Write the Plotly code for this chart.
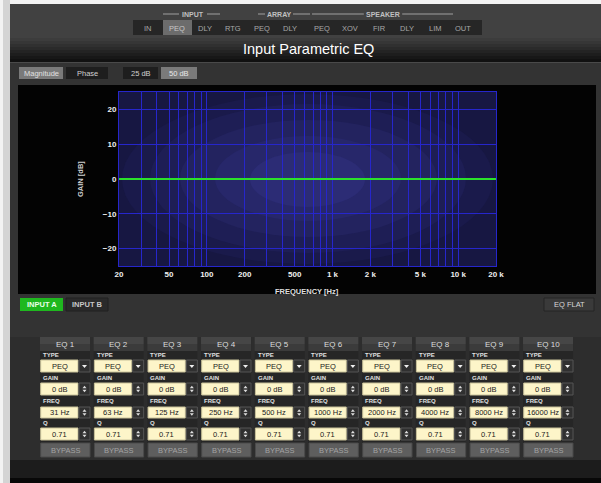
import plotly.graph_objects as go

# ---------------- data ----------------
nav_labels = ["IN", "PEQ", "DLY", "RTG", "PEQ", "DLY", "PEQ", "XOV", "FIR", "DLY", "LIM", "OUT"]
nav_groups = ["INPUT", "ARRAY", "SPEAKER"]
eq_names = ["EQ 1", "EQ 2", "EQ 3", "EQ 4", "EQ 5", "EQ 6", "EQ 7", "EQ 8", "EQ 9", "EQ 10"]
eq_types = ["PEQ", "PEQ", "PEQ", "PEQ", "PEQ", "PEQ", "PEQ", "PEQ", "PEQ", "PEQ"]
eq_gain_db = [0, 0, 0, 0, 0, 0, 0, 0, 0, 0]
eq_freq_hz = [31, 63, 125, 250, 500, 1000, 2000, 4000, 8000, 16000]
eq_q = [0.71, 0.71, 0.71, 0.71, 0.71, 0.71, 0.71, 0.71, 0.71, 0.71]

resp_freq_hz = [20, 31, 63, 125, 250, 500, 1000, 2000, 4000, 8000, 16000, 20000]
resp_gain_db = [0, 0, 0, 0, 0, 0, 0, 0, 0, 0, 0, 0]

x_label_vals = [20, 50, 100, 200, 500, 1000, 2000, 5000, 10000, 20000]
x_label_text = ["20", "50", "100", "200", "500", "1 k", "2 k", "5 k", "10 k", "20 k"]
x_grid_vals = [30, 40, 60, 70, 80, 90, 300, 400, 600, 700, 800, 900,
               3000, 4000, 6000, 7000, 8000, 9000]
y_tick_vals = [-20, -10, 0, 10, 20]

# ---------------- layout geometry (pixels) ----------------
W, H = 601, 483
PL, PR, PT, PB = 119, 496, 92, 266


def X(px):
    return (px - PL) / (PR - PL)


def Y(py):
    return (PB - py) / (PB - PT)


shapes = []
annotations = []


def rect(x0, y0, x1, y1, fill, line=None, lw=1):
    shapes.append(dict(type="rect", xref="paper", yref="paper",
                       x0=X(x0), x1=X(x1), y0=Y(y1), y1=Y(y0),
                       fillcolor=fill, layer="below",
                       line=dict(color=line or fill, width=lw if line else 0)))


def ellipse(x0, y0, x1, y1, fill):
    shapes.append(dict(type="circle", xref="paper", yref="paper",
                       x0=X(x0), x1=X(x1), y0=Y(y1), y1=Y(y0),
                       fillcolor=fill, layer="below", line=dict(width=0)))


def hline(x0, x1, y, color):
    shapes.append(dict(type="line", xref="paper", yref="paper",
                       x0=X(x0), x1=X(x1), y0=Y(y), y1=Y(y),
                       layer="above", line=dict(color=color, width=1)))


def tri(cx, cy, w, h, up, color):
    if up:
        pts = [(cx - w / 2, cy + h / 2), (cx + w / 2, cy + h / 2), (cx, cy - h / 2)]
    else:
        pts = [(cx - w / 2, cy - h / 2), (cx + w / 2, cy - h / 2), (cx, cy + h / 2)]
    path = "M " + " L ".join(f"{X(a):.5f},{Y(b):.5f}" for a, b in pts) + " Z"
    shapes.append(dict(type="path", xref="paper", yref="paper", path=path,
                       fillcolor=color, layer="above", line=dict(width=0)))


FONT = "Liberation Sans"


def txt(x, y, s, size, color, bold=False, xanchor="center", angle=0, family=FONT):
    annotations.append(dict(xref="paper", yref="paper", x=X(x), y=Y(y), text=s,
                            showarrow=False, xanchor=xanchor, yanchor="middle",
                            textangle=angle,
                            font=dict(size=size, color=color, family=family,
                                      weight="bold" if bold else "normal")))


# background frame
rect(0, 0, W, 4, "#f3f3f3")
rect(0, 0, 10, H, "#d4d4d4")
rect(0, 0, 3, H, "#f3f3f3")
rect(10, 4, W, 38, "#414141")
# title bar gradient
tb = ["#3c3c3c", "#363636", "#303030", "#2a2a2a", "#232323", "#1d1d1d", "#171717", "#111111"]
for i, c in enumerate(tb):
    rect(10, 38 + i * 3, W, 41 + i * 3, c)
rect(10, 62, W, 63, "#4a4a4a")
rect(10, 63, W, 337, "#333333")
rect(10, 337, W, 460, "#2d2d2d")
rect(10, 460, W, 478, "#1c1c1c")
rect(10, 478, W, H, "#080808")

# navigation bar
rect(133, 20, 482, 35, "#262626")
nav_x = [148, 177, 205, 233, 262, 290, 322, 350, 379, 407, 435, 463]
rect(163, 20, 192, 35, "#6c6c6c")
for i, (lab, nx) in enumerate(zip(nav_labels, nav_x)):
    txt(nx, 28, lab, 7.5, "#c8c8c8" if i == 1 else "#a8a8a8")
group_pos = [(193, 163, 220), (279, 258, 310), (383, 312, 453)]
for g, (cx, a, b) in zip(nav_groups, group_pos):
    half = len(g) * 2.6
    hline(a, cx - half - 1, 14, "#a0a0a0")
    hline(cx + half + 1, b, 14, "#a0a0a0")
    txt(cx, 14, g, 7, "#c0c0c0", bold=True)

# title
txt(308, 49, "Input Parametric EQ", 14.5, "#ffffff")

# view buttons
rect(19, 67, 63, 79, "#7a7a7a")
txt(41, 73, "Magnitude", 7.5, "#e0e0e0")
rect(66, 67, 108, 79, "#1e1e1e")
txt(87, 73, "Phase", 7.5, "#d0d0d0")
rect(123, 67, 158, 79, "#1e1e1e")
txt(140.5, 73, "25 dB", 7.5, "#d0d0d0")
rect(161, 67, 197, 79, "#7a7a7a")
txt(179, 73, "50 dB", 7.5, "#e8e8e8")

# graph panel
rect(18, 85, 596, 294, "#030303")
rect(PL, PT, PR, PB, "#171742")
for (a, b, c, d, col) in [(122, 94, 493, 264, "#1a1a4b"),
                          (150, 104, 466, 253, "#1e1e55"),
                          (180, 120, 437, 237, "#23235f"),
                          (215, 136, 401, 221, "#27276a"),
                          (250, 152, 365, 207, "#2c2c75")]:
    ellipse(a, b, c, d, col)

txt(80, 179, "GAIN [dB]", 7.5, "#d0d0d0", bold=True, angle=-90)
txt(307, 291, "FREQUENCY [Hz]", 7.5, "#e0e0e0", bold=True)

# input / flat buttons
rect(20, 298, 63, 311, "#1fb81f")
txt(41.5, 304.5, "INPUT A", 7.5, "#eaffea", bold=True)
rect(66, 298, 108, 311, "#2a2a2a", "#202020")
txt(87, 304.5, "INPUT B", 7.5, "#c8c8c8", bold=True)
rect(544, 298, 594, 311, "#3a3a3a", "#242424")
txt(569, 304.5, "EQ FLAT", 7.5, "#d8d8d8")

# EQ columns
for i in range(len(eq_names)):
    x0 = 40 + 53.67 * i
    rect(x0, 351, x0 + 50, 457, "#262626")
    rect(x0, 337, x0 + 50, 344, "#464646")
    rect(x0, 344, x0 + 50, 351, "#3b3b3b")
    txt(x0 + 25, 344, eq_names[i], 8, "#dcdcdc")
    rows = [(355, "TYPE", 360, 372, eq_types[i]),
            (378, "GAIN", 383, 395, f"{eq_gain_db[i]:g} dB"),
            (401, "FREQ", 407, 418, f"{eq_freq_hz[i]} Hz"),
            (423, "Q", 428, 440, f"{eq_q[i]:.2f}")]
    for j, (ly, lab, b0, b1, val) in enumerate(rows):
        txt(x0 + 1, ly, lab, 6, "#e0e0e0", bold=True, xanchor="left")
        rect(x0 + 0.7, b0, x0 + 38, b1, "#fdf5c9", "#c9c29a")
        txt(x0 + 19.5, (b0 + b1) / 2, val, 7.5, "#202020")
        rect(x0 + 39, b0, x0 + 50, b1, "#303030", "#555555")
        cx, cy = x0 + 44.5, (b0 + b1) / 2
        if j == 0:
            tri(cx, cy + 0.5, 5, 3, False, "#f0f0f0")
        else:
            tri(cx, cy - 2, 4, 2.5, True, "#e0e0e0")
            tri(cx, cy + 2, 4, 2.5, False, "#e0e0e0")
    rect(x0 + 0.7, 443, x0 + 50, 457, "#5e5e5e", "#4a4a4a")
    txt(x0 + 25, 450, "BYPASS", 7.5, "#a4a4a4")

# ---------------- figure ----------------
fig = go.Figure()
fig.add_trace(go.Scatter(x=resp_freq_hz, y=resp_gain_db, mode="lines",
                         line=dict(color="#2be02b", width=2),
                         hoverinfo="skip", showlegend=False))

grid_col = "#2626cc"
tickvals = x_label_vals + x_grid_vals
ticktext = x_label_text + [""] * len(x_grid_vals)

fig.update_layout(
    width=W, height=H,
    margin=dict(l=PL, r=W - PR, t=PT, b=H - PB, pad=0, autoexpand=False),
    paper_bgcolor="#313131",
    plot_bgcolor="rgba(0,0,0,0)",
    shapes=shapes,
    annotations=annotations,
    showlegend=False,
    xaxis=dict(type="log", range=[1.30103, 4.30103],
               tickmode="array", tickvals=tickvals, ticktext=ticktext,
               showgrid=True, gridcolor=grid_col, gridwidth=1,
               showline=True, linecolor=grid_col, linewidth=1, mirror=True,
               zeroline=False, ticks="",
               tickfont=dict(size=8, color="#f0f0f0", family=FONT, weight="bold")),
    yaxis=dict(range=[-25, 25], tickmode="array", tickvals=y_tick_vals,
               showgrid=True, gridcolor=grid_col, gridwidth=1,
               showline=True, linecolor=grid_col, linewidth=1, mirror=True,
               zeroline=False, ticks="",
               tickfont=dict(size=8, color="#f0f0f0", family=FONT, weight="bold")),
)

fig.write_html("out.html", config={"displayModeBar": False},
               post_script="document.body.style.margin='0';document.body.style.overflow='hidden';")
